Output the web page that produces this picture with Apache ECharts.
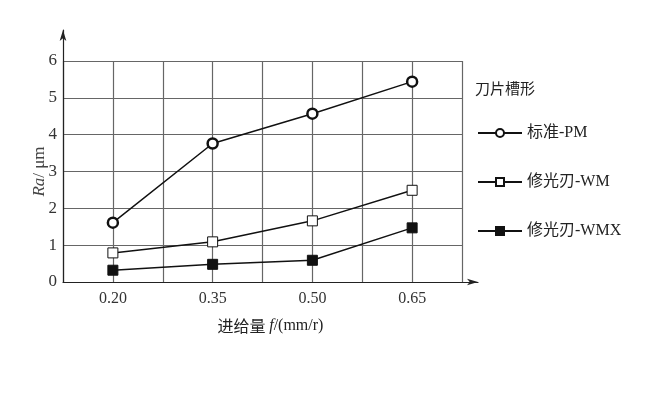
<!DOCTYPE html>
<html><head><meta charset="utf-8">
<script src="https://cdn.jsdelivr.net/npm/echarts@6/dist/echarts.min.js"></script>
<style>html,body{margin:0;padding:0;background:#fff}#c{width:650px;height:393px}</style>
</head><body><div id="c"></div>
<script>
var categories = ['0.20', '0.35', '0.50', '0.65'];
var yTicks = [0, 1, 2, 3, 4, 5, 6];
var seriesNames = ['标准-PM', '修光刃-WM', '修光刃-WMX'];
var pm  = [1.61, 3.76, 4.57, 5.44];
var wm  = [0.79, 1.09, 1.66, 2.49];
var wmx = [0.32, 0.48, 0.59, 1.47];

function toPts(vals){ return vals.map(function(v,i){ return [2*i+1, v]; }); }
var serif = '"Liberation Serif", "DejaVu Serif", serif';
var mix = '"Liberation Serif", "Noto Sans CJK SC", serif';
var cjk = '"Noto Sans CJK SC", "Liberation Serif", serif';

var chart = echarts.init(document.getElementById('c'), null, {renderer:'canvas'});
chart.setOption({
  animation:false,
  backgroundColor:'#fff',
  title:{ text:'刀片槽形', left:470, top:76, textStyle:{fontFamily:cjk, fontSize:15, fontWeight:'normal', color:'#222'} },
  legend:{
    orient:'vertical', left:472, top:120, itemGap:33, itemWidth:44, itemHeight:10,
    textStyle:{fontFamily:mix, fontSize:16, color:'#222'},
    data:seriesNames
  },
  grid:[
    {left:63, right:188, top:61, bottom:111},
    {left:63, right:172, top:30, bottom:111}
  ],
  xAxis:[
    {gridIndex:0, type:'value', min:0, max:8, interval:1,
     axisLine:{show:false}, axisTick:{show:false},
     splitLine:{show:true, lineStyle:{color:'#666', width:1.2}},
     axisLabel:{fontFamily:serif, fontSize:16, color:'#333', margin:9,
       formatter:function(v){ return (v%2===1) ? categories[(v-1)/2] : ''; }},
     name:'{a|进给量 }{b|f}{c|/(mm/r)}', nameLocation:'middle', nameGap:36,
     nameTextStyle:{padding:[0,0,0,16], rich:{
       a:{fontFamily:cjk, fontSize:16, color:'#222'},
       b:{fontFamily:serif, fontStyle:'italic', fontSize:16, color:'#222'},
       c:{fontFamily:serif, fontSize:16, color:'#222'}}}
    },
    {gridIndex:1, type:'value', min:0, max:1,
     axisLine:{show:true, symbol:['none','arrow'], symbolSize:[5,11], lineStyle:{color:'#222', width:1.2}},
     axisTick:{show:false}, axisLabel:{show:false}, splitLine:{show:false}}
  ],
  yAxis:[
    {gridIndex:0, type:'value', min:yTicks[0], max:yTicks[yTicks.length-1], interval:1,
     axisLine:{show:false}, axisTick:{show:false},
     splitLine:{show:true, lineStyle:{color:'#666', width:1.2}},
     axisLabel:{fontFamily:serif, fontSize:17, color:'#333', margin:6},
     name:'{a|Ra}{b|/ μm}', nameLocation:'middle', nameGap:15, nameRotate:90, nameMoveOverlap:false,
     nameTextStyle:{rich:{
       a:{fontFamily:serif, fontStyle:'italic', fontSize:17, color:'#444'},
       b:{fontFamily:serif, fontSize:17, color:'#444'}}}
    },
    {gridIndex:1, type:'value', min:0, max:1,
     axisLine:{show:true, symbol:['none','arrow'], symbolSize:[5,11], lineStyle:{color:'#222', width:1.2}},
     axisTick:{show:false}, axisLabel:{show:false}, splitLine:{show:false}}
  ],
  series:[
    {name:seriesNames[0], type:'line', data:toPts(pm), symbol:'circle', symbolSize:10,
     itemStyle:{color:'#fff', borderColor:'#111', borderWidth:2.5},
     lineStyle:{color:'#111', width:1.5}},
    {name:seriesNames[1], type:'line', data:toPts(wm), symbol:'rect', symbolSize:10,
     itemStyle:{color:'#fff', borderColor:'#111', borderWidth:1},
     lineStyle:{color:'#111', width:1.5}},
    {name:seriesNames[2], type:'line', data:toPts(wmx), symbol:'rect', symbolSize:10,
     itemStyle:{color:'#111', borderColor:'#111', borderWidth:1},
     lineStyle:{color:'#111', width:1.5}}
  ]
});
</script></body></html>
